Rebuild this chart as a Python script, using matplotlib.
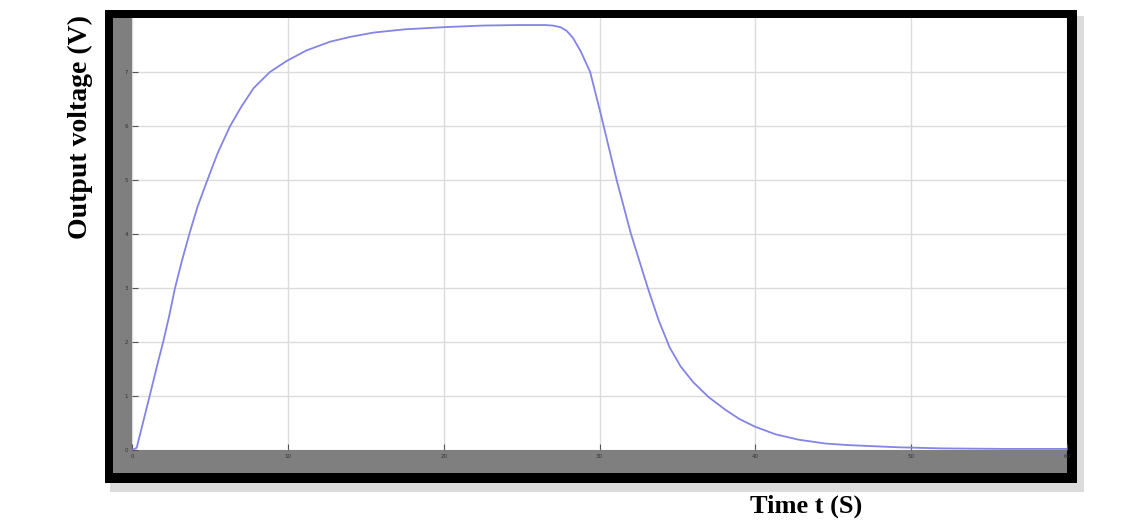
import matplotlib.pyplot as plt
from matplotlib.patches import Rectangle

# Output voltage
t = [0, 0.3, 0.7, 1.15, 1.6, 2.0, 2.4, 2.76, 3.2, 3.7, 4.2, 4.8, 5.5, 6.28, 7.0,
     7.8, 8.85, 9.9, 11.2, 12.7, 14, 15.5, 17.5, 20, 22.5, 24.9, 26.5, 27.0, 27.5,
     27.9, 28.3, 28.8, 29.4, 30.1, 31.1, 32.0, 33.1, 33.8, 34.5, 35.2, 36.0, 37.0,
     38.1, 39.0, 40.0, 41.3, 42.8, 44.5, 46.0, 49.2, 52, 56, 60]
v = [0, 0.04, 0.5, 1.02, 1.55, 2.0, 2.5, 3.0, 3.5, 4.02, 4.5, 4.97, 5.5, 5.99, 6.35,
     6.7, 7.0, 7.2, 7.4, 7.56, 7.65, 7.73, 7.79, 7.83, 7.86, 7.87, 7.87, 7.86, 7.83,
     7.76, 7.63, 7.38, 7.0, 6.2, 5.0, 4.02, 3.0, 2.4, 1.9, 1.55, 1.26, 0.98,
     0.74, 0.57, 0.43, 0.29, 0.19, 0.12, 0.09, 0.05, 0.03, 0.02, 0.02]

xticks = [0, 10, 20, 30, 40, 50, 60]
yticks = [0, 1, 2, 3, 4, 5, 6, 7]

W, H = 1139, 526
fig = plt.figure(figsize=(W / 100, H / 100), dpi=100)

def box(x0, y0, x1, y1, **kw):
    # pixel box (top-left origin) -> figure coords
    fig.patches.append(Rectangle((x0 / W, 1 - y1 / H), (x1 - x0) / W, (y1 - y0) / H,
                                 transform=fig.transFigure, figure=fig, **kw))

# shadow, black frame, gray scope background
box(110, 16, 1084, 492, facecolor='#dcdcdc', edgecolor='none', zorder=0)
box(105, 10, 1077, 483, facecolor='black', edgecolor='none', zorder=1)
box(113, 18, 1067, 473, facecolor='#7f7f7f', edgecolor='none', zorder=2)

ax = fig.add_axes([132 / W, 1 - 450 / H, (1067 - 132) / W, (450 - 18) / H])
ax.set_zorder(5)
ax.set_facecolor('white')
ax.plot(t, v, color='#8484e6', lw=1.3)
ax.set_xlim(0, 60)
ax.set_ylim(0, 8)
ax.set_xticks(xticks)
ax.set_yticks(yticks)
ax.grid(True, color='#dcdcdc', lw=1)
for s in ax.spines.values():
    s.set_visible(False)
ax.tick_params(direction='in', length=4, width=0.8, color='#555555',
               labelsize=4, labelcolor='#333333', pad=3)

fig.text(80 / W, 1 - 127 / H, 'Output voltage (V)', rotation=90, ha='center', va='center',
         fontsize=20, fontweight='bold', family='Liberation Serif')
fig.text(806 / W, 1 - 506 / H, 'Time t (S)', ha='center', va='center',
         fontsize=19, fontweight='bold', family='Liberation Serif')

fig.savefig('out.png', dpi=100)
